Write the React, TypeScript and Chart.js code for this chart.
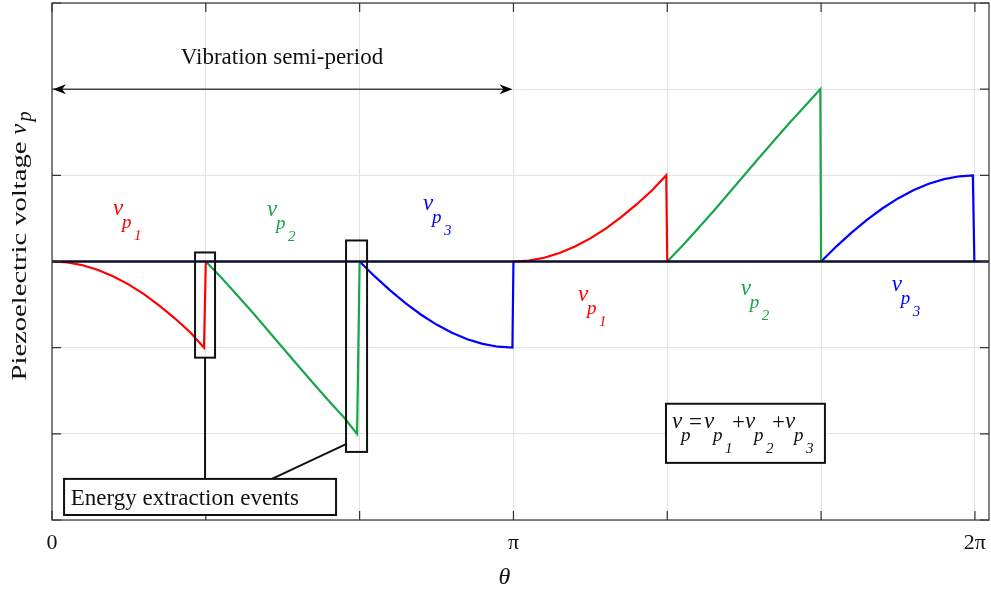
import React, { useEffect, useRef } from "react";
import { Chart, registerables } from "chart.js";
Chart.register(...registerables);

// θ in degrees (360 = 2π); voltage in normalized units
const red1Theta = [0, 6, 12, 18, 24, 30, 36, 42, 48, 54, 59.3, 60];
const red1V = [0, -0.011, -0.044, -0.098, -0.173, -0.268, -0.382, -0.514, -0.662, -0.824, -1.0, 0];
const green1Theta = [60, 66, 72, 78, 84, 90, 96, 102, 108, 114, 119, 120];
const green1V = [0, -0.187, -0.382, -0.584, -0.791, -1.0, -1.209, -1.416, -1.618, -1.813, -2.0, 0];
const blue1Theta = [120, 126, 132, 138, 144, 150, 156, 162, 168, 174, 179.6, 180];
const blue1V = [0, -0.176, -0.338, -0.486, -0.618, -0.732, -0.827, -0.902, -0.956, -0.989, -1.0, 0];

const red2Theta = [180, 186, 192, 198, 204, 210, 216, 222, 228, 234, 239.6, 240];
const red2V = [0, 0.011, 0.044, 0.098, 0.173, 0.268, 0.382, 0.514, 0.662, 0.824, 1.0, 0];
const green2Theta = [240, 246, 252, 258, 264, 270, 276, 282, 288, 294, 299.7, 300];
const green2V = [0, 0.187, 0.382, 0.584, 0.791, 1.0, 1.209, 1.416, 1.618, 1.813, 2.0, 0];
const blue2Theta = [300, 306, 312, 318, 324, 330, 336, 342, 348, 354, 359.2, 359.8];
const blue2V = [0, 0.176, 0.338, 0.486, 0.618, 0.732, 0.827, 0.902, 0.956, 0.989, 1.0, 0];

const baselineTheta = [0, 366];
const baselineV = [0, 0];

const xTickValues = [0, 60, 120, 180, 240, 300, 360];
const xTickLabels = ["0", "", "", "π", "", "", "2π"];
const yTickValues = [-3, -2, -1, 0, 1, 2, 3];

const RED = "#ff0000";
const GREEN = "#17a64a";
const BLUE = "#0000ff";
const SERIF = "'Liberation Serif', 'DejaVu Serif', serif";

function pts(t: number[], v: number[]) {
  return t.map((x, i) => ({ x, y: v[i] }));
}
function joined(a: { x: number; y: number }[], b: { x: number; y: number }[]) {
  const gapX = (a[a.length - 1].x + b[0].x) / 2;
  return [...a, { x: gapX, y: null as any }, ...b];
}

function drawVp(ctx: CanvasRenderingContext2D, x: number, base: number, color: string, sub: string) {
  ctx.fillStyle = color;
  ctx.textAlign = "left";
  ctx.textBaseline = "alphabetic";
  ctx.font = `italic 23px ${SERIF}`;
  ctx.fillText("v", x, base);
  ctx.font = `italic 19px ${SERIF}`;
  ctx.fillText("p", x + 9, base + 13);
  if (sub) {
    ctx.font = `italic 15px ${SERIF}`;
    ctx.fillText(sub, x + 21, base + 25);
  }
}

function arrowHead(ctx: CanvasRenderingContext2D, tipX: number, y: number, dir: number) {
  ctx.beginPath();
  ctx.moveTo(tipX, y);
  ctx.lineTo(tipX + dir * 13, y - 5);
  ctx.lineTo(tipX + dir * 9, y);
  ctx.lineTo(tipX + dir * 13, y + 5);
  ctx.closePath();
  ctx.fill();
}

const annotPlugin = {
  id: "annot",
  afterDatasetsDraw(chart: any) {
    const { ctx, chartArea: ca, scales } = chart;
    const xs = scales.x, ys = scales.y;
    const X = (v: number) => xs.getPixelForValue(v);
    const Y = (v: number) => ys.getPixelForValue(v);
    ctx.save();

    // plot frame
    ctx.strokeStyle = "#333";
    ctx.lineWidth = 1.2;
    ctx.strokeRect(ca.left, ca.top, ca.right - ca.left, ca.bottom - ca.top);

    // inward tick marks
    ctx.lineWidth = 1.2;
    ctx.beginPath();
    xTickValues.forEach((v) => {
      const px = X(v);
      ctx.moveTo(px, ca.bottom); ctx.lineTo(px, ca.bottom - 9);
      ctx.moveTo(px, ca.top); ctx.lineTo(px, ca.top + 9);
    });
    yTickValues.forEach((v) => {
      const py = Y(v);
      ctx.moveTo(ca.left, py); ctx.lineTo(ca.left + 9, py);
      ctx.moveTo(ca.right, py); ctx.lineTo(ca.right - 9, py);
    });
    ctx.stroke();

    // semi-period arrow
    ctx.strokeStyle = "#444";
    ctx.fillStyle = "#000";
    ctx.lineWidth = 1.5;
    ctx.beginPath();
    ctx.moveTo(X(0) + 6, Y(2));
    ctx.lineTo(X(180) - 6, Y(2));
    ctx.stroke();
    arrowHead(ctx, X(0) + 1, Y(2), 1);
    arrowHead(ctx, X(180) - 1, Y(2), -1);

    ctx.fillStyle = "#111";
    ctx.font = `23px ${SERIF}`;
    ctx.textAlign = "center";
    ctx.textBaseline = "alphabetic";
    ctx.fillText("Vibration semi-period", X(89.7), Y(2.29));

    // extraction event boxes
    ctx.strokeStyle = "#111";
    ctx.lineWidth = 2;
    const rectD = (t0: number, t1: number, v0: number, v1: number) => {
      ctx.strokeRect(X(t0), Y(v0), X(t1) - X(t0), Y(v1) - Y(v0));
    };
    rectD(55.8, 63.6, 0.105, -1.116);
    rectD(114.7, 122.9, 0.244, -2.21);
    ctx.beginPath();
    ctx.moveTo(X(59.7), Y(-1.116));
    ctx.lineTo(X(59.7), Y(-2.523));
    ctx.moveTo(X(114.7), Y(-2.12));
    ctx.lineTo(X(85.8), Y(-2.523));
    ctx.stroke();

    // label box
    ctx.fillStyle = "#fff";
    ctx.fillRect(X(4.7), Y(-2.523), X(110.8) - X(4.7), Y(-2.942) - Y(-2.523));
    rectD(4.7, 110.8, -2.523, -2.942);
    ctx.fillStyle = "#111";
    ctx.textAlign = "left";
    ctx.font = `23px ${SERIF}`;
    ctx.fillText("Energy extraction events", X(7.3), Y(-2.826));

    // series labels
    drawVp(ctx, X(23.8), Y(0.535), RED, "1");
    drawVp(ctx, X(83.9), Y(0.523), GREEN, "2");
    drawVp(ctx, X(144.7), Y(0.593), BLUE, "3");
    drawVp(ctx, X(205.2), Y(-0.453), RED, "1");
    drawVp(ctx, X(268.7), Y(-0.384), GREEN, "2");
    drawVp(ctx, X(327.6), Y(-0.337), BLUE, "3");

    // equation box
    ctx.fillStyle = "#fff";
    ctx.fillRect(X(239.5), Y(-1.651), X(301.5) - X(239.5), Y(-2.337) - Y(-1.651));
    rectD(239.5, 301.5, -1.651, -2.337);
    const ex = X(239.5), eb = Y(-1.93);
    drawVp(ctx, ex + 6, eb, "#111", "");
    ctx.font = `23px ${SERIF}`;
    ctx.fillText("=", ex + 23, eb + 1);
    drawVp(ctx, ex + 38, eb, "#111", "1");
    ctx.font = `23px ${SERIF}`;
    ctx.fillText("+", ex + 66, eb + 1);
    drawVp(ctx, ex + 79, eb, "#111", "2");
    ctx.font = `23px ${SERIF}`;
    ctx.fillText("+", ex + 106, eb + 1);
    drawVp(ctx, ex + 119, eb, "#111", "3");

    // y axis title
    ctx.save();
    ctx.translate(26, Y(-1.38));
    ctx.rotate(-Math.PI / 2);
    ctx.fillStyle = "#111";
    ctx.font = `22px ${SERIF}`;
    ctx.textAlign = "left";
    const label = "Piezoelectric voltage ";
    const w = ctx.measureText(label).width;
    const target = 246;
    ctx.save();
    ctx.scale(target / w, 1);
    ctx.fillText(label, 0, 0);
    ctx.restore();
    ctx.font = `italic 24px ${SERIF}`;
    ctx.fillText("v", target, 0);
    ctx.font = `italic 20px ${SERIF}`;
    ctx.fillText("p", target + 13, 5);
    ctx.restore();

    // x axis title
    ctx.fillStyle = "#111";
    ctx.font = `italic 24px ${SERIF}`;
    ctx.textAlign = "center";
    ctx.textBaseline = "middle";
    ctx.fillText("θ", X(176.5), 578);

    ctx.restore();
  },
};

export default function App() {
  const ref = useRef<HTMLCanvasElement>(null);
  useEffect(() => {
    document.body.style.margin = "0";
    const c = ref.current!;
    const chart = new Chart(c, {
      type: "line",
      data: {
        datasets: [
          {
            label: "baseline",
            data: pts(baselineTheta, baselineV),
            borderColor: "#0b0b2e",
            borderWidth: 2.6,
            pointRadius: 0,
            order: 0,
          },
          {
            label: "v_p1",
            data: joined(pts(red1Theta, red1V), pts(red2Theta, red2V)),
            borderColor: RED,
            borderWidth: 2.2,
            pointRadius: 0,
            spanGaps: false,
            order: 1,
          },
          {
            label: "v_p2",
            data: joined(pts(green1Theta, green1V), pts(green2Theta, green2V)),
            borderColor: GREEN,
            borderWidth: 2.2,
            pointRadius: 0,
            spanGaps: false,
            order: 1,
          },
          {
            label: "v_p3",
            data: joined(pts(blue1Theta, blue1V), pts(blue2Theta, blue2V)),
            borderColor: BLUE,
            borderWidth: 2.2,
            pointRadius: 0,
            spanGaps: false,
            order: 1,
          },
        ],
      },
      options: {
        animation: false,
        responsive: true,
        maintainAspectRatio: false,
        layout: { padding: { top: 3, right: 2, left: 0, bottom: 0 } },
        plugins: { legend: { display: false }, tooltip: { enabled: false } },
        scales: {
          x: {
            type: "linear",
            min: 0,
            max: 365.5,
            afterBuildTicks: (s: any) => {
              s.ticks = xTickValues.map((value) => ({ value }));
            },
            afterFit: (s: any) => {
              s.height = 72;
              s.paddingLeft = 0;
              s.paddingRight = 0;
            },
            ticks: {
              autoSkip: false,
              maxRotation: 0,
              padding: 10,
              color: "#111",
              font: { family: SERIF, size: 22 },
              callback: (v: any) => {
                const i = xTickValues.indexOf(Number(v));
                return i >= 0 ? xTickLabels[i] : "";
              },
            },
            grid: { color: "#e2e2e2", lineWidth: 1, drawTicks: false },
            border: { display: false },
          },
          y: {
            type: "linear",
            min: -3,
            max: 3,
            afterBuildTicks: (s: any) => {
              s.ticks = yTickValues.map((value) => ({ value }));
            },
            afterFit: (s: any) => {
              s.width = 52;
              s.paddingTop = 0;
              s.paddingBottom = 0;
            },
            ticks: { display: false },
            grid: { color: "#e2e2e2", lineWidth: 1, drawTicks: false },
            border: { display: false },
          },
        },
      },
      plugins: [annotPlugin],
    });
    return () => chart.destroy();
  }, []);
  return (
    <div style={{ width: 991, height: 592, position: "relative" }}>
      <canvas ref={ref} />
    </div>
  );
}
